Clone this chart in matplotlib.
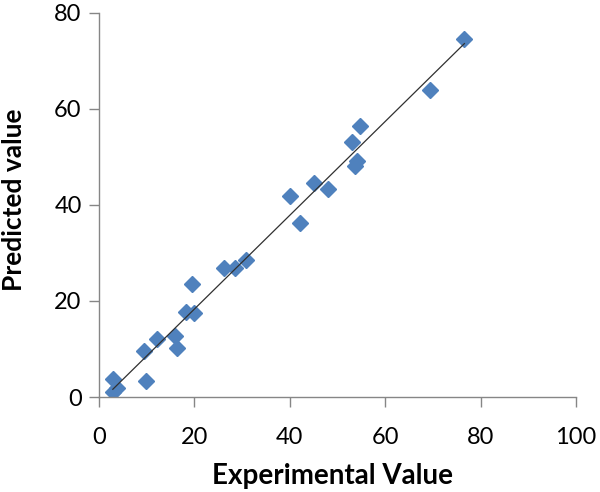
import numpy as np
import matplotlib
matplotlib.use("Agg")
import matplotlib.pyplot as plt

experimental = [76.6, 69.3, 54.7, 53.1, 54.1, 53.7, 45.1, 48.0, 40.0, 42.1,
                30.9, 28.6, 26.3, 19.6, 20.0, 18.3, 16.0, 16.4, 12.2, 9.5,
                9.9, 2.9, 2.9, 3.8]
predicted = [74.6, 64.0, 56.5, 53.1, 49.2, 48.1, 44.6, 43.3, 41.9, 36.3,
             28.5, 26.9, 26.9, 23.5, 17.5, 17.7, 12.7, 10.2, 12.1, 9.6,
             3.3, 3.75, 1.0, 1.9]
x_ticks = [0, 20, 40, 60, 80, 100]
y_ticks = [0, 20, 40, 60, 80]

plt.rcParams['font.family'] = ['Lato', 'DejaVu Sans']

fig = plt.figure(figsize=(6.0, 4.92), dpi=100)
ax = fig.add_axes([0.165, 0.193, 0.795, 0.781])

x = np.array(experimental)
y = np.array(predicted)
m, b = np.polyfit(x, y, 1)
xl = np.array([x.min(), x.max()])
ax.plot(xl, m * xl + b, color='#303030', lw=0.9, zorder=3)
ax.plot(x, y, linestyle='none', marker='D', ms=8, color='#4F81BD',
        markeredgecolor='#4F81BD', zorder=2)

ax.set_xlim(0, 100)
ax.set_ylim(0, 80)
ax.set_xticks(x_ticks)
ax.set_yticks(y_ticks)
for s in ['top', 'right']:
    ax.spines[s].set_visible(False)
for s in ['left', 'bottom']:
    ax.spines[s].set_color('#868686')
    ax.spines[s].set_linewidth(1.0)
ax.tick_params(axis='both', colors='#868686', labelcolor='black',
               labelsize=17, length=7.5, width=1.0, direction='out')
ax.tick_params(axis='x', pad=14)
ax.tick_params(axis='y', pad=5)
ax.set_xlabel('Experimental Value', fontsize=20, fontweight='bold')
ax.set_ylabel('Predicted value', fontsize=19, fontweight='bold')
ax.xaxis.set_label_coords(0.49, -0.172)
ax.yaxis.set_label_coords(-0.152, 0.513)

fig.savefig('out.png', dpi=100)
